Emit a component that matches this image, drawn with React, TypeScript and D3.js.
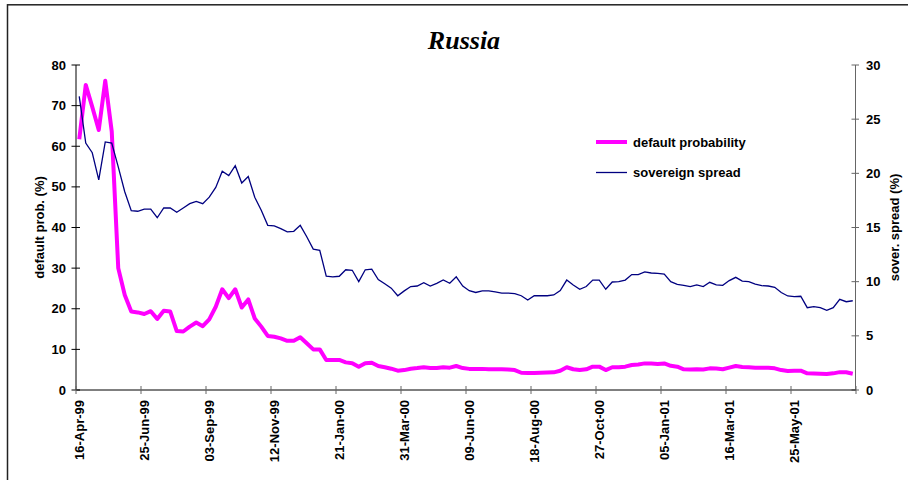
import React, { useEffect, useRef } from "react";
import * as d3 from "d3";

// weekly observations, first week 16-Apr-99
const startDate = new Date(1999, 3, 16);

const tickLabels = [
  "16-Apr-99", "25-Jun-99", "03-Sep-99", "12-Nov-99", "21-Jan-00", "31-Mar-00",
  "09-Jun-00", "18-Aug-00", "27-Oct-00", "05-Jan-01", "16-Mar-01", "25-May-01",
];

// default probability (%), left axis
const defaultProb = [
  61.7, 75.1, 69.7, 64.0, 76.1, 63.6, 30.0, 23.4, 19.3, 19.1,
  18.7, 19.4, 17.5, 19.5, 19.3, 14.5, 14.4, 15.6, 16.6, 15.7,
  17.4, 20.5, 24.8, 22.6, 24.8, 20.3, 22.3, 17.6, 15.6, 13.3,
  13.1, 12.7, 12.1, 12.1, 13.0, 11.5, 10.0, 10.0, 7.4, 7.4,
  7.4, 6.8, 6.6, 5.7, 6.6, 6.7, 5.9, 5.6, 5.25, 4.75,
  4.9, 5.25, 5.4, 5.6, 5.4, 5.4, 5.6, 5.5, 5.9, 5.4,
  5.2, 5.2, 5.2, 5.1, 5.1, 5.1, 5.05, 4.9, 4.25, 4.2,
  4.2, 4.25, 4.3, 4.35, 4.75, 5.6, 5.1, 4.9, 5.1, 5.75,
  5.75, 4.9, 5.6, 5.6, 5.75, 6.15, 6.3, 6.55, 6.5, 6.4,
  6.55, 5.95, 5.75, 5.1, 5.05, 5.1, 5.05, 5.33, 5.3, 5.1,
  5.5, 5.9, 5.65, 5.6, 5.5, 5.45, 5.45, 5.33, 4.9, 4.7,
  4.75, 4.75, 4.1, 4.05, 4.0, 3.95, 4.1, 4.4, 4.35, 4.0,
];

// sovereign spread (%), right axis
const sovereignSpread = [
  27.1, 22.8, 21.9, 19.4, 22.9, 22.8, 20.6, 18.3, 16.55, 16.5,
  16.7, 16.7, 15.9, 16.8, 16.8, 16.4, 16.8, 17.2, 17.4, 17.2,
  17.8, 18.7, 20.2, 19.8, 20.7, 19.1, 19.7, 17.8, 16.6, 15.2,
  15.15, 14.9, 14.6, 14.65, 15.2, 14.15, 13.0, 12.9, 10.5, 10.45,
  10.5, 11.1, 11.05, 10.0, 11.1, 11.15, 10.2, 9.8, 9.4, 8.7,
  9.15, 9.55, 9.6, 9.9, 9.6, 9.85, 10.15, 9.85, 10.45, 9.6,
  9.17, 9.0, 9.15, 9.15, 9.05, 8.95, 8.95, 8.9, 8.7, 8.3,
  8.7, 8.7, 8.7, 8.77, 9.17, 10.15, 9.7, 9.3, 9.55, 10.15,
  10.15, 9.3, 9.97, 10.0, 10.15, 10.65, 10.65, 10.9, 10.8, 10.77,
  10.7, 10.0, 9.75, 9.66, 9.54, 9.7, 9.54, 9.94, 9.7, 9.66,
  10.1, 10.4, 10.05, 10.0, 9.78, 9.63, 9.6, 9.48, 9.0, 8.68,
  8.62, 8.65, 7.6, 7.69, 7.6, 7.35, 7.6, 8.37, 8.15, 8.24,
];

const leftTicks = [0, 10, 20, 30, 40, 50, 60, 70, 80];
const rightTicks = [0, 5, 10, 15, 20, 25, 30];

const fmt = d3.timeFormat("%d-%b-%y");
const weeks = defaultProb.map((_, i) => fmt(d3.timeDay.offset(startDate, 7 * i)));

export default function App() {
  const svgRef = useRef<SVGSVGElement>(null);
  const width = 908;
  const height = 480;
  const margin = { top: 65, right: 52, bottom: 90, left: 76 };
  const font = "'Liberation Sans', Arial, sans-serif";
  const fs = 13;

  useEffect(() => {
    const svg = d3.select(svgRef.current);
    svg.selectAll("*").remove();

    const x = d3
      .scaleBand<string>()
      .domain(weeks)
      .range([margin.left, width - margin.right]);
    const cx = (d: string) => (x(d) as number) + x.bandwidth() / 2;

    const yL = d3.scaleLinear().domain([0, 80]).range([height - margin.bottom, margin.top]);
    const yR = d3.scaleLinear().domain([0, 30]).range([height - margin.bottom, margin.top]);
    const y0 = height - margin.bottom;
    const xEnd = width - margin.right;

    // outer frame
    svg
      .append("rect")
      .attr("x", 7.5)
      .attr("y", 4.8)
      .attr("width", 1000)
      .attr("height", 1000)
      .attr("fill", "none")
      .attr("stroke", "#222")
      .attr("stroke-width", 1.5);

    // title
    svg
      .append("text")
      .attr("x", 464)
      .attr("y", 49)
      .attr("text-anchor", "middle")
      .attr("font-family", "'Liberation Serif', 'Times New Roman', serif")
      .attr("font-weight", "bold")
      .attr("font-style", "italic")
      .attr("font-size", 26)
      .text("Russia");

    // left axis
    svg
      .append("line")
      .attr("x1", margin.left)
      .attr("x2", margin.left)
      .attr("y1", margin.top)
      .attr("y2", y0)
      .attr("stroke", "#000");
    const gl = svg.append("g");
    gl.selectAll("line")
      .data(leftTicks)
      .enter()
      .append("line")
      .attr("x1", margin.left - 4.5)
      .attr("x2", margin.left + 4)
      .attr("y1", (d) => yL(d))
      .attr("y2", (d) => yL(d))
      .attr("stroke", "#000");
    gl.selectAll("text")
      .data(leftTicks)
      .enter()
      .append("text")
      .attr("x", 66)
      .attr("y", (d) => yL(d))
      .attr("dy", "0.35em")
      .attr("text-anchor", "end")
      .attr("font-family", font)
      .attr("font-weight", "bold")
      .attr("font-size", fs)
      .text((d) => d);

    // right axis
    svg
      .append("line")
      .attr("x1", xEnd - 0.5)
      .attr("x2", xEnd - 0.5)
      .attr("y1", margin.top)
      .attr("y2", y0)
      .attr("stroke", "#666");
    const gr = svg.append("g");
    gr.selectAll("line")
      .data(rightTicks)
      .enter()
      .append("line")
      .attr("x1", xEnd - 4.5)
      .attr("x2", xEnd + 3)
      .attr("y1", (d) => yR(d))
      .attr("y2", (d) => yR(d))
      .attr("stroke", "#666");
    gr.selectAll("text")
      .data(rightTicks)
      .enter()
      .append("text")
      .attr("x", 866)
      .attr("y", (d) => yR(d))
      .attr("dy", "0.35em")
      .attr("font-family", font)
      .attr("font-weight", "bold")
      .attr("font-size", fs)
      .text((d) => d);

    // x axis
    svg
      .append("line")
      .attr("x1", margin.left)
      .attr("x2", xEnd)
      .attr("y1", y0)
      .attr("y2", y0)
      .attr("stroke", "#000");
    const tickX = tickLabels.map((t) => x(t) as number).concat([xEnd]);
    svg
      .append("g")
      .selectAll("line")
      .data(tickX)
      .enter()
      .append("line")
      .attr("x1", (d) => d)
      .attr("x2", (d) => d)
      .attr("y1", y0 - 4)
      .attr("y2", y0 + 4)
      .attr("stroke", "#666");
    svg
      .append("g")
      .selectAll("text")
      .data(tickLabels)
      .enter()
      .append("text")
      .attr("transform", (d) => `translate(${cx(d) + 4.5},${y0 + 10}) rotate(-90)`)
      .attr("text-anchor", "end")
      .attr("font-family", font)
      .attr("font-weight", "bold")
      .attr("font-size", fs)
      .text((d) => d);

    // axis titles
    svg
      .append("text")
      .attr("transform", `translate(44,${(margin.top + y0) / 2}) rotate(-90)`)
      .attr("text-anchor", "middle")
      .attr("font-family", font)
      .attr("font-weight", "bold")
      .attr("font-size", fs)
      .text("default prob. (%)");
    svg
      .append("text")
      .attr("transform", `translate(899,${(margin.top + y0) / 2}) rotate(-90)`)
      .attr("text-anchor", "middle")
      .attr("font-family", font)
      .attr("font-weight", "bold")
      .attr("font-size", fs)
      .text("sover. spread (%)");

    // default probability
    const lineL = d3
      .line<number>()
      .x((_, i) => cx(weeks[i]))
      .y((d) => yL(d));
    svg
      .append("path")
      .datum(defaultProb)
      .attr("d", lineL)
      .attr("fill", "none")
      .attr("stroke", "#FF00FF")
      .attr("stroke-width", 4)
      .attr("stroke-linejoin", "round");

    // sovereign spread
    const lineR = d3
      .line<number>()
      .x((_, i) => cx(weeks[i]))
      .y((d) => yR(d));
    svg
      .append("path")
      .datum(sovereignSpread)
      .attr("d", lineR)
      .attr("fill", "none")
      .attr("stroke", "#000080")
      .attr("stroke-width", 1.3);

    // legend
    const legend = [
      { label: "default probability", color: "#FF00FF", w: 4, y: 142 },
      { label: "sovereign spread", color: "#000080", w: 1.3, y: 172.5 },
    ];
    const lg = svg.append("g");
    legend.forEach((l) => {
      lg.append("line")
        .attr("x1", 596)
        .attr("x2", 627)
        .attr("y1", l.y)
        .attr("y2", l.y)
        .attr("stroke", l.color)
        .attr("stroke-width", l.w);
      lg.append("text")
        .attr("x", 633)
        .attr("y", l.y)
        .attr("dy", "0.35em")
        .attr("font-family", font)
        .attr("font-weight", "bold")
        .attr("font-size", fs)
        .text(l.label);
    });
  }, []);

  return (
    <svg
      ref={svgRef}
      width={width}
      height={height}
      style={{ position: "absolute", left: 0, top: 0, background: "#fff" }}
    />
  );
}
